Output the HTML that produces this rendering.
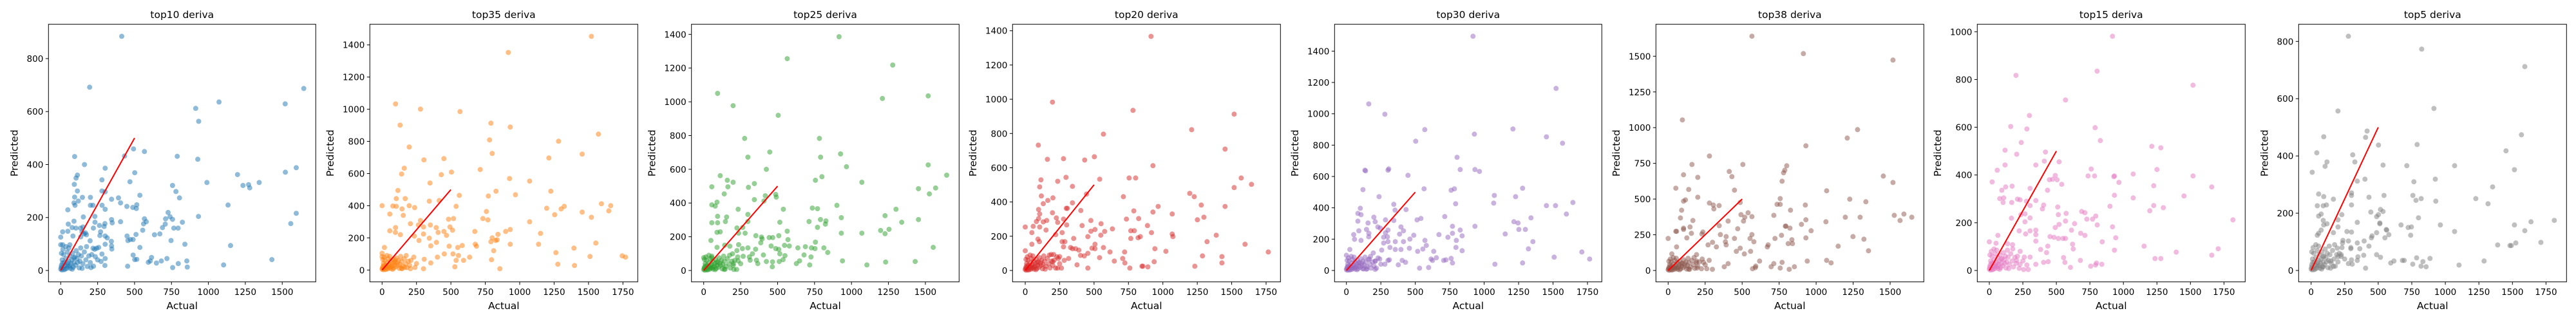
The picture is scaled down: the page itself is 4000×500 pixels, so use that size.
<!DOCTYPE html>
<html><head><meta charset="utf-8"><style>
html,body{margin:0;padding:0;background:#fff;}
svg{display:block;}
text{font-family:"DejaVu Sans","Liberation Sans",sans-serif;fill:#000;}
</style></head><body>
<svg id="fig" width="4000" height="500" viewBox="0 0 4000 500" xmlns="http://www.w3.org/2000/svg">
<rect x="0" y="0" width="4000" height="500" fill="#fff"/>
</svg>
<script>
const originCluster=[[0,5],[5,20],[10,40],[15,10],[20,60],[25,30],[30,5],[35,45],[40,20],[45,70],[50,15],[55,35],[60,55],[65,8],[70,25],[75,40],[80,65],[85,12],[90,30],[95,50],[100,20],[110,45],[120,60],[125,10],[130,35],[140,55],[150,25],[160,70],[170,40],[180,15],[190,55],[200,30],[15,80],[35,90],[55,85],[5,65],[8,2],[3,12],[12,28],[22,3],[28,18],[42,8],[48,28],[62,18],[78,5],[88,48],[105,75],[115,30],[135,85],[145,8],[175,90],[210,60],[230,80],[250,40]];
const refLineX=[0,500];
const refLineY=[0,500];
const plotTitles=["top10 deriva","top35 deriva","top25 deriva","top20 deriva","top30 deriva","top38 deriva","top15 deriva","top5 deriva"];
const plotColors=["#1f77b4","#ff7f0e","#2ca02c","#d62728","#9467bd","#8c564b","#e377c2","#7f7f7f"];
const xTicks1500=[0,250,500,750,1000,1250,1500];
const xTicks1750=[0,250,500,750,1000,1250,1500,1750];
const yTicks800=[0,200,400,600,800];
const yTicks1000=[0,200,400,600,800,1000];
const yTicks1400=[0,200,400,600,800,1000,1200,1400];
const yTicks1500=[0,250,500,750,1000,1250,1500];

const top10Pts=[[413,884],[196,692],[914,612],[1072,636],[934,563],[1520,629],[1646,687],[94,430],[161,400],[432,432],[493,459],[567,449],[789,431],[928,420],[501,369],[301,386],[1521,371],[1595,388],[1197,362],[113,360],[104,349],[92,325],[990,332],[1344,332],[1272,324],[1234,321],[1280,312],[279,342],[469,335],[757,321],[780,298],[804,274],[113,300],[279,300],[301,297],[94,277],[147,276],[201,276],[391,274],[536,284],[344,269],[405,255],[90,255],[119,262],[97,246],[48,229],[201,246],[218,246],[280,246],[448,242],[488,238],[515,248],[512,234],[301,231],[1133,247],[933,204],[1595,216],[727,219],[740,203],[757,193],[710,195],[708,175],[689,162],[824,182],[766,160],[795,160],[567,195],[579,184],[561,176],[555,152],[1558,177],[153,202],[231,204],[405,184],[344,192],[349,180],[232,182],[221,160],[262,170],[299,177],[294,166],[270,146],[265,132],[301,130],[315,123],[343,110],[344,93],[301,99],[346,81],[510,136],[449,130],[455,113],[472,117],[490,117],[536,87],[841,99],[747,113],[635,135],[671,138],[1150,94],[490,58],[501,41],[515,42],[615,49],[593,31],[606,36],[648,28],[681,36],[719,45],[796,26],[758,11],[854,36],[857,13],[1103,21],[1430,41],[453,16],[299,19],[222,16],[205,11],[234,52],[279,62],[273,34],[301,45],[257,87],[219,84],[243,84],[199,112],[174,135],[167,142],[151,164],[134,160],[144,146],[158,138],[135,127],[83,130],[51,175],[48,148],[13,146],[0,126],[0,97],[13,97],[90,186],[103,160],[77,162],[62,97]];
const top35Pts=[[1521,1453],[917,1353],[98,1033],[279,1001],[566,985],[131,901],[791,913],[931,889],[1572,845],[781,809],[1282,801],[197,765],[800,725],[1454,721],[1212,697],[304,685],[449,693],[713,625],[161,633],[142,597],[430,593],[504,609],[926,569],[1072,553],[348,541],[115,495],[828,490],[1226,490],[561,464],[772,460],[969,468],[168,444],[103,444],[0,400],[78,398],[103,396],[197,400],[237,388],[145,380],[343,428],[415,432],[538,396],[1196,384],[1301,380],[1324,396],[1594,412],[1661,400],[1647,368],[1254,344],[1454,360],[1521,328],[758,364],[733,320],[769,312],[56,348],[154,340],[1072,300],[483,316],[519,320],[279,308],[264,280],[351,280],[393,264],[301,268],[206,288],[98,264],[56,244],[97,234],[133,220],[407,234],[449,240],[493,268],[512,248],[468,216],[301,224],[234,211],[268,184],[343,198],[674,240],[898,240],[931,252],[842,222],[1151,228],[800,200],[791,176],[825,184],[836,188],[1553,168],[1137,160],[931,160],[677,160],[686,148],[582,152],[550,140],[487,148],[395,172],[354,150],[811,120],[1263,108],[1394,136],[636,80],[592,60],[538,60],[555,90],[452,100],[515,100],[402,80],[795,64],[1511,84],[1745,88],[1769,80],[1277,36],[1398,28],[856,8],[529,20],[301,8],[239,16],[206,8],[354,44],[306,67],[17,140],[0,104],[0,83],[94,64],[164,16],[140,11]];
const top25Pts=[[916,1386],[565,1256],[1279,1218],[94,1050],[1519,1035],[1209,1020],[199,977],[504,920],[277,783],[783,783],[447,702],[926,691],[299,672],[791,672],[966,615],[1519,626],[424,600],[1644,565],[112,562],[800,556],[160,535],[756,535],[199,523],[1070,523],[343,515],[55,496],[164,496],[303,493],[1453,485],[1569,489],[139,454],[1527,454],[417,443],[487,451],[491,435],[343,420],[408,412],[90,405],[55,389],[78,382],[901,386],[233,363],[539,363],[735,370],[770,366],[1301,363],[299,332],[931,313],[94,321],[155,317],[1227,325],[1453,302],[1340,286],[790,302],[827,294],[823,275],[55,283],[94,283],[147,290],[299,290],[515,286],[713,290],[770,256],[225,252],[264,255],[236,221],[280,221],[1197,237],[1254,244],[1227,218],[931,221],[1070,221],[565,233],[570,183],[508,206],[353,206],[391,198],[395,187],[443,195],[467,195],[386,164],[456,145],[547,149],[579,145],[637,134],[688,141],[729,134],[753,130],[756,168],[813,134],[839,107],[726,80],[679,92],[649,57],[627,41],[717,33],[939,57],[1104,33],[1231,50],[1431,53],[1553,137],[550,88],[537,64],[511,53],[515,99],[508,125],[487,130],[404,92],[366,41],[357,61],[314,61],[309,80],[466,51],[424,53],[464,22],[236,153],[262,130],[299,134],[351,126],[330,99],[267,84],[233,57],[201,41],[223,6],[204,6],[139,6],[195,99],[225,118],[177,144],[142,150],[90,137],[49,178],[112,229],[90,226],[55,76],[0,76]];
const top20Pts=[[914,1367],[198,983],[783,935],[1518,913],[1209,822],[568,796],[95,732],[1452,709],[161,649],[278,653],[432,645],[502,664],[928,612],[755,540],[802,540],[1569,540],[296,544],[114,529],[541,533],[236,521],[105,488],[343,491],[1518,484],[1644,503],[1195,450],[1228,431],[445,446],[713,431],[117,435],[201,424],[164,409],[131,390],[343,395],[1279,382],[1452,374],[966,374],[97,356],[105,330],[298,363],[306,363],[404,350],[789,348],[928,341],[1068,330],[1298,311],[1251,296],[198,337],[226,307],[278,300],[97,303],[156,292],[236,281],[301,266],[735,300],[824,303],[477,292],[551,273],[413,262],[0,254],[58,258],[105,254],[131,284],[633,243],[888,262],[477,229],[507,239],[577,228],[549,206],[455,198],[767,232],[792,232],[917,221],[1068,213],[1073,198],[1388,206],[1321,168],[1597,153],[221,209],[268,221],[48,221],[92,183],[151,236],[352,187],[767,187],[820,191],[836,198],[268,168],[288,168],[278,138],[48,153],[103,168],[329,134],[343,127],[507,153],[568,134],[485,130],[507,127],[942,127],[1766,108],[722,108],[616,108],[1022,112],[1288,85],[1429,81],[1429,44],[1232,25],[937,51],[708,70],[724,44],[647,55],[760,14],[848,25],[855,25],[891,21],[540,75],[455,100],[429,85],[402,88],[376,33],[455,14],[390,119],[366,127],[200,51],[221,14],[263,14],[236,14],[189,93],[207,93],[250,81],[283,59],[315,70],[240,70],[81,286],[0,115]];
const top30Pts=[[919,1495],[1522,1162],[162,1063],[279,997],[569,899],[1209,903],[929,870],[503,825],[1452,853],[1569,812],[803,722],[139,636],[134,640],[302,640],[307,648],[447,607],[826,644],[933,644],[966,632],[120,516],[564,521],[760,512],[784,521],[1279,525],[237,471],[1074,479],[1228,471],[1069,430],[793,426],[1644,434],[344,422],[353,385],[433,389],[1452,414],[1518,414],[101,397],[83,364],[106,356],[1597,360],[714,344],[199,340],[209,311],[157,303],[83,315],[284,323],[344,319],[513,323],[541,332],[1216,311],[1246,303],[1340,336],[933,282],[770,282],[396,278],[414,253],[386,232],[228,278],[246,270],[302,258],[284,240],[90,253],[146,262],[163,237],[53,229],[59,199],[106,192],[162,215],[270,212],[298,215],[302,184],[270,175],[355,184],[414,184],[461,200],[489,225],[672,229],[737,212],[770,237],[826,258],[840,221],[798,192],[570,192],[580,160],[555,137],[795,147],[840,126],[634,122],[517,122],[457,142],[396,134],[355,134],[316,147],[256,130],[1153,233],[1252,262],[1299,262],[1354,184],[1321,138],[1709,118],[1766,73],[1508,85],[1279,48],[1078,40],[760,77],[770,48],[723,68],[706,64],[653,81],[615,73],[625,64],[597,19],[531,15],[429,52],[405,64],[377,36],[279,40],[312,68],[302,64],[242,73],[209,60],[218,15],[209,7],[150,11],[118,11],[167,73],[195,112],[25,134],[0,97]];
const top38Pts=[[566,1640],[914,1518],[1519,1473],[96,1054],[1280,986],[1210,927],[931,873],[279,801],[161,742],[505,742],[801,733],[788,702],[780,684],[770,625],[104,670],[413,693],[431,657],[200,652],[1454,661],[1519,616],[52,576],[139,567],[448,562],[1071,558],[200,513],[104,485],[117,494],[757,503],[1227,499],[487,476],[279,472],[305,458],[309,431],[344,454],[736,463],[757,463],[1336,481],[927,458],[91,422],[827,422],[83,368],[540,404],[492,391],[518,373],[509,346],[566,377],[405,346],[167,350],[1528,386],[1593,395],[1646,373],[1567,350],[1197,373],[1297,373],[714,386],[931,355],[1066,341],[901,323],[345,314],[148,305],[104,287],[104,296],[470,292],[792,310],[796,310],[823,296],[966,278],[57,274],[52,274],[157,260],[235,269],[228,255],[353,251],[392,237],[566,251],[766,246],[931,228],[1249,237],[0,224],[126,228],[448,224],[553,224],[722,224],[836,215],[1323,219],[1149,170],[676,179],[670,165],[811,188],[840,188],[579,201],[387,201],[300,197],[326,165],[392,179],[270,179],[461,134],[487,156],[515,116],[557,134],[1354,138],[618,66],[592,30],[570,12],[589,20],[696,26],[714,48],[757,17],[770,57],[818,8],[853,26],[940,66],[1071,71],[1101,53],[405,48],[379,26],[299,8],[261,12],[225,12],[196,17],[239,57],[277,71],[192,66],[192,111],[139,9],[25,116],[57,165]];
const top15Pts=[[919,981],[804,835],[199,817],[1519,776],[568,714],[299,649],[160,603],[789,598],[280,593],[238,536],[828,544],[1212,520],[1279,514],[117,504],[419,496],[204,487],[520,455],[410,458],[117,442],[347,442],[1250,423],[760,425],[59,420],[1073,404],[492,398],[933,396],[929,393],[737,396],[785,396],[1519,396],[448,380],[472,382],[506,380],[967,369],[21,371],[540,361],[1226,355],[1659,350],[170,353],[122,350],[434,336],[304,344],[93,336],[933,315],[1452,312],[1073,304],[78,301],[107,304],[103,285],[167,285],[210,299],[229,296],[277,290],[304,272],[347,293],[405,274],[396,258],[510,266],[515,234],[573,239],[1226,272],[1298,263],[900,269],[1197,250],[689,247],[713,242],[727,215],[770,215],[794,228],[165,219],[236,234],[266,237],[304,220],[266,204],[1817,212],[805,191],[919,183],[636,196],[613,169],[520,193],[492,180],[568,207],[681,156],[713,147],[347,169],[304,166],[347,150],[223,166],[271,153],[453,142],[482,139],[515,134],[549,134],[568,134],[621,110],[626,90],[943,137],[842,120],[1154,102],[1394,77],[1659,64],[1707,91],[1236,50],[1279,50],[933,85],[839,26],[799,31],[792,23],[756,18],[679,42],[605,13],[564,34],[554,54],[439,37],[405,34],[347,26],[290,4],[256,4],[280,23],[229,26],[223,9],[204,42],[261,56],[304,56],[436,102],[383,88],[347,123],[427,75],[173,108],[136,112],[64,147],[50,114],[0,120]];
const top5Pts=[[278,818],[824,773],[1592,712],[915,566],[200,557],[417,487],[406,465],[1567,474],[502,438],[790,440],[1452,418],[42,411],[94,467],[310,404],[118,379],[104,364],[326,379],[536,368],[713,366],[1069,366],[1515,352],[8,343],[344,312],[401,319],[766,310],[925,319],[1352,292],[301,271],[301,262],[56,267],[94,258],[166,249],[431,256],[543,262],[758,262],[820,251],[781,245],[929,242],[1227,251],[1318,233],[46,226],[90,226],[114,229],[301,229],[229,195],[56,190],[75,197],[445,204],[517,213],[536,206],[488,188],[502,195],[800,184],[344,168],[200,177],[118,163],[90,175],[94,159],[56,130],[75,141],[46,123],[166,132],[267,136],[301,134],[200,152],[512,166],[512,163],[560,143],[563,141],[579,125],[550,114],[670,159],[723,150],[747,152],[742,123],[963,159],[1069,136],[1638,170],[1812,175],[1515,159],[1592,139],[1712,98],[1525,96],[1482,87],[1390,89],[1492,87],[488,132],[454,121],[449,114],[395,103],[431,85],[344,96],[363,76],[349,48],[392,53],[488,55],[517,46],[237,105],[234,96],[278,103],[296,76],[296,80],[195,78],[224,55],[200,48],[224,49],[278,24],[306,22],[301,37],[344,35],[406,8],[593,26],[617,33],[680,35],[694,35],[757,22],[786,44],[819,15],[833,31],[857,13],[886,42],[1102,19],[1289,33],[166,14],[147,33],[90,13]];

const plotData=[top10Pts,top35Pts,top25Pts,top20Pts,top30Pts,top38Pts,top15Pts,top5Pts];
const plotXTicks=[xTicks1500,xTicks1750,xTicks1500,xTicks1750,xTicks1750,xTicks1500,xTicks1750,xTicks1750];
const plotYTicks=[yTicks800,yTicks1400,yTicks1400,yTicks1400,yTicks1400,yTicks1500,yTicks1000,yTicks800];
// axis geometry: [frameLeft, frameRight, pixelAtX0, pxPerUnitX, pixelAtY0, pxPerUnitY]
const axesGeom=[[75.3,490.3,94.3,0.2293,420,0.4113],[574.3,990.3,593.3,0.2137,419.3,0.2497],[1073.7,1489.3,1092.7,0.2295,420,0.2619],[1572.3,1988.3,1592,0.2137,420,0.2659],[2072.3,2487.3,2090.7,0.2139,420,0.2433],[2571.3,2987.3,2590.3,0.2298,420,0.2218],[3070.3,3486.3,3089,0.2082,420,0.3707],[3569.3,3985.3,3588.7,0.2084,420,0.4446]];
const TOP=37.7,BOTTOM=437.7;
const NS="http://www.w3.org/2000/svg";
const svg=document.getElementById('fig');
function mk(tag,attrs,parent){const e=document.createElementNS(NS,tag);for(const k in attrs)e.setAttribute(k,attrs[k]);parent.appendChild(e);return e;}

plotData.forEach((pts,i)=>{
  const g=axesGeom[i];
  const sx=v=>g[2]+v*g[3];
  const sy=v=>g[4]-v*g[5];
  const grp=mk('g',{},svg);
  
  
  const clip='clip'+i;
  const cp=mk('clipPath',{id:clip},grp);
  mk('rect',{x:g[0],y:TOP,width:g[1]-g[0],height:BOTTOM-TOP},cp);
  const pg=mk('g',{'clip-path':'url(#'+clip+')'},grp);
  
  
  const all=originCluster.concat(pts);
  all.forEach(p=>{
    const c=mk('circle',{cx:sx(p[0]).toFixed(1),cy:sy(p[1]).toFixed(1),r:4,fill:plotColors[i],'fill-opacity':0.5},pg);
    
    
  });
  const ln=mk('line',{x1:sx(refLineX[0]),y1:sy(refLineY[0]),x2:sx(refLineX[1]),y2:sy(refLineY[1]),stroke:'#ff0000','stroke-width':2},grp);
  
  
  const fr=mk('rect',{x:g[0],y:TOP,width:g[1]-g[0],height:BOTTOM-TOP,fill:'none',stroke:'#000','stroke-width':1},grp);
  
  
  plotXTicks[i].forEach(t=>{
    const x=sx(t);
    const tk=mk('line',{x1:x,y1:BOTTOM,x2:x,y2:BOTTOM+4.5,stroke:'#000','stroke-width':1},grp);
    
    
    const tl=mk('text',{x:x,y:458,'text-anchor':'middle','font-size':13.5},grp);
    tl.textContent=t;
    
    
  });
  let maxLen=0;
  plotYTicks[i].forEach(t=>{
    const y=sy(t);
    maxLen=Math.max(maxLen,String(t).length);
    const tk=mk('line',{x1:g[0]-4.5,y1:y,x2:g[0],y2:y,stroke:'#000','stroke-width':1},grp);
    
    
    const tl=mk('text',{x:g[0]-8,y:y+5,'text-anchor':'end','font-size':13.5},grp);
    tl.textContent=t;
    
    
  });
  const cx=(g[0]+g[1])/2;
  const ti=mk('text',{x:cx,y:28,'text-anchor':'middle','font-size':15.5},grp);
  ti.textContent=plotTitles[i];
  
  
  const xl=mk('text',{x:cx,y:480,'text-anchor':'middle','font-size':15.5},grp);
  xl.textContent='Actual';
  
  
  const lx=g[0]-8-maxLen*8.6-19;
  const yl=mk('text',{x:lx,y:237.7,'text-anchor':'middle','font-size':15.5,'dominant-baseline':'central',transform:'rotate(-90 '+lx+' 237.7)'},grp);
  yl.textContent='Predicted';
  
  
});
</script>
</body></html>
